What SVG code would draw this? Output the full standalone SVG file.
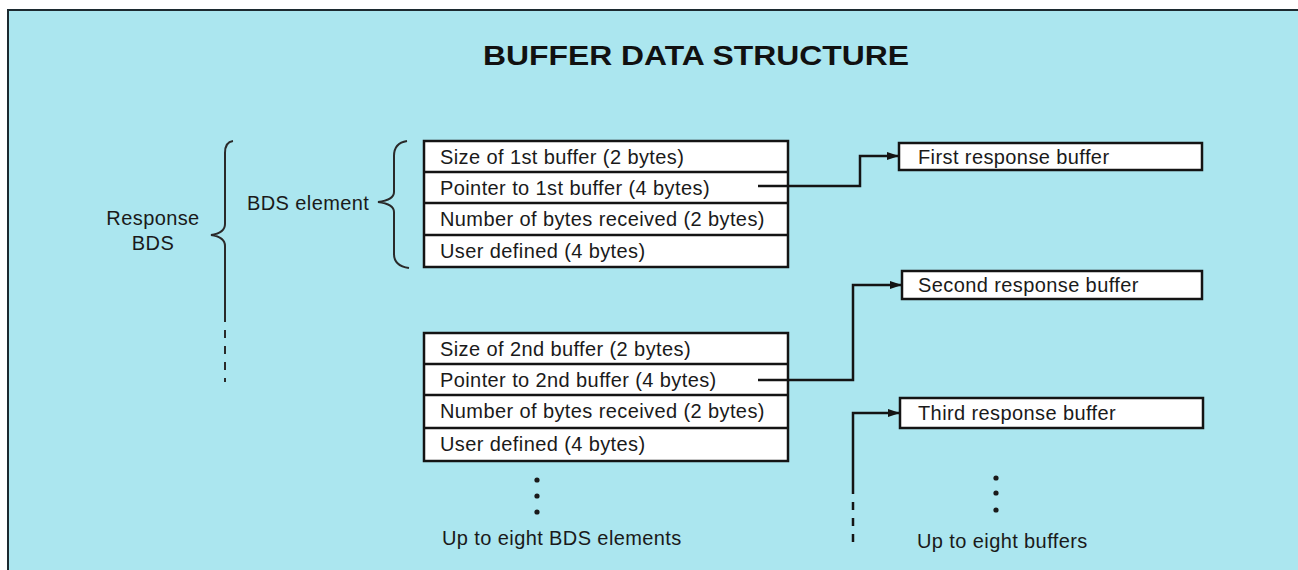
<svg xmlns="http://www.w3.org/2000/svg" width="1298" height="570" viewBox="0 0 1298 570">
<style>
.t{font-family:"Liberation Sans",Arial,sans-serif;font-size:20px;fill:#1a1a1a;letter-spacing:0.4px}
.box{fill:#ffffff;stroke:#141414;stroke-width:2.5}
.ln{fill:none;stroke:#141414;stroke-width:2.5}
.br{fill:none;stroke:#2a2a2a;stroke-width:2}
.dash{fill:none;stroke:#141414;stroke-width:2.5;stroke-dasharray:8 8}
.dot{fill:#1a1a1a}
</style>
<defs>
<marker id="ah" viewBox="0 0 12 8" refX="12" refY="4" markerWidth="12" markerHeight="8" markerUnits="userSpaceOnUse" orient="auto">
<path d="M0,0 L12,4 L0,8 Z" fill="#141414"/>
</marker>
</defs>
<rect x="0" y="0" width="1298" height="570" fill="#ffffff"/>
<rect x="8" y="10" width="1290" height="560" fill="#abe6ef"/>
<path d="M8,570 L8,10 L1298,10" fill="none" stroke="#1c2a30" stroke-width="2"/>
<text x="696" y="65" text-anchor="middle" textLength="426" lengthAdjust="spacingAndGlyphs" style="font-family:'Liberation Sans',Arial,sans-serif;font-size:27px;font-weight:bold;fill:#111">BUFFER DATA STRUCTURE</text>

<g id="response-bds">
<path class="br" d="M233,141 Q225,142 225,153 L225,224 Q225,233 211,235 Q225,237 225,246 L225,322"/>
<path class="br" d="M225,330 L225,382" style="stroke-dasharray:8 8"/>
<text class="t" x="153" y="225" text-anchor="middle">Response</text>
<text class="t" x="153" y="250" text-anchor="middle">BDS</text>
</g>

<g id="bds-element-label">
<path class="br" d="M407,141 Q394,143 394,156 L394,192 Q394,200 378,202 Q394,204 394,212 L394,254 Q394,266 409,268"/>
<text class="t" x="247" y="210">BDS element</text>
</g>

<g id="bds-element-1">
<rect class="box" x="424" y="141" width="364" height="126"/>
<path class="ln" d="M424,172 H788 M424,203 H788 M424,235 H788"/>
<text class="t" x="440" y="164">Size of 1st buffer (2 bytes)</text>
<text class="t" x="440" y="195">Pointer to 1st buffer (4 bytes)</text>
<text class="t" x="440" y="226">Number of bytes received (2 bytes)</text>
<text class="t" x="440" y="258">User defined (4 bytes)</text>
</g>

<g id="bds-element-2">
<rect class="box" x="424" y="333" width="364" height="128"/>
<path class="ln" d="M424,364 H788 M424,395 H788 M424,428 H788"/>
<text class="t" x="440" y="356">Size of 2nd buffer (2 bytes)</text>
<text class="t" x="440" y="387">Pointer to 2nd buffer (4 bytes)</text>
<text class="t" x="440" y="418">Number of bytes received (2 bytes)</text>
<text class="t" x="440" y="451">User defined (4 bytes)</text>
</g>

<g id="more-elements">
<circle class="dot" cx="537" cy="480" r="2.6"/>
<circle class="dot" cx="537" cy="496" r="2.6"/>
<circle class="dot" cx="537" cy="512" r="2.6"/>
<text class="t" x="442" y="545">Up to eight BDS elements</text>
</g>

<g id="buffer-1">
<rect class="box" x="899" y="143" width="303" height="27"/>
<text class="t" x="918" y="164">First response buffer</text>
</g>
<g id="buffer-2">
<rect class="box" x="902" y="271" width="300" height="28"/>
<text class="t" x="918" y="292">Second response buffer</text>
</g>
<g id="buffer-3">
<rect class="box" x="900" y="398" width="303" height="30"/>
<text class="t" x="918" y="420">Third response buffer</text>
</g>

<g id="more-buffers">
<circle class="dot" cx="996" cy="478" r="2.6"/>
<circle class="dot" cx="996" cy="493" r="2.6"/>
<circle class="dot" cx="996" cy="510" r="2.6"/>
<text class="t" x="917" y="548">Up to eight buffers</text>
</g>

<g id="connectors">
<path class="ln" d="M758,186 H860 V156 H899" marker-end="url(#ah)"/>
<path class="ln" d="M758,380 H853 V285 H902" marker-end="url(#ah)"/>
<path class="ln" d="M853,494 V413 H900" marker-end="url(#ah)"/>
<path class="dash" d="M853,502 V544"/>
</g>
</svg>
